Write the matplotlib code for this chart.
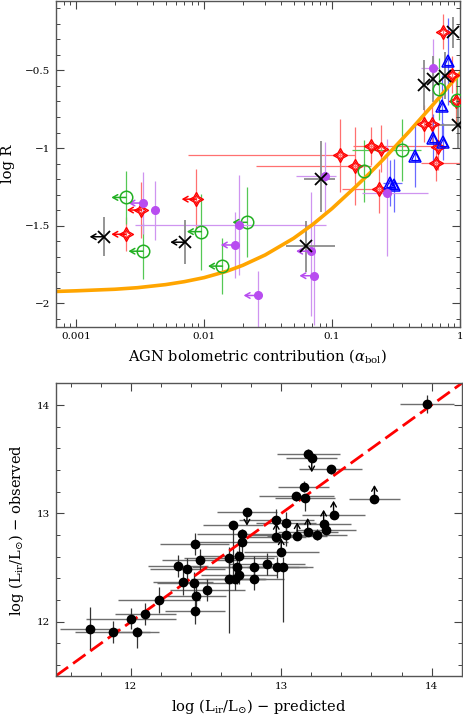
import numpy as np
import matplotlib
matplotlib.use('Agg')
import matplotlib.pyplot as plt
from matplotlib.ticker import FixedLocator, MultipleLocator, LogLocator, NullFormatter

plt.rcParams['font.family'] = 'DejaVu Serif'
plt.rcParams['mathtext.fontset'] = 'dejavuserif'

# ---------------- top panel data : log R vs alpha_bol ----------------
# model curve
curve_a = [0.0007, 0.001, 0.002, 0.003, 0.005, 0.007, 0.01, 0.015, 0.02, 0.03, 0.05, 0.07,
           0.1, 0.15, 0.2, 0.25, 0.3, 0.4, 0.5, 0.6, 0.7, 0.85, 1.0]
curve_r = [-1.923, -1.919, -1.909, -1.899, -1.879, -1.860, -1.834, -1.793, -1.755, -1.688,
           -1.581, -1.494, -1.389, -1.255, -1.156, -1.075, -1.005, -0.894, -0.804, -0.731,
           -0.668, -0.585, -0.52]

# red stars
x_red = [0.00323, 0.00244, 0.00865, 0.116, 0.150, 0.203, 0.242, 0.231, 0.526, 0.600, 0.668, 0.645, 0.740, 0.869, 0.923]
y_red = [-1.399, -1.555, -1.329, -1.045, -1.115, -0.987, -1.004, -1.265, -0.842, -0.842, -0.991, -1.094, -0.250, -0.528, -0.699]
ylo_red = [0.18, 0.11, 0.195, 0.235, 0.25, 0.12, 0.15, 0.15, 0.12, 0.12, 0.15, 0.12, 0.11, 0.12, 0.15]
yhi_red = [0.18, 0.11, 0.195, 0.235, 0.25, 0.12, 0.15, 0.13, 0.12, 0.12, 0.15, 0.15, 0.11, 0.12, 0.15]
xmin_red = [0.00323, 0.00244, 0.00865, 0.00745, 0.0254, 0.147, 0.242, 0.12, 0.526, 0.600, 0.668, 0.5, 0.740, 0.869, 0.923]
xmax_red = [0.00323, 0.00244, 0.00865, 0.152, 0.2, 0.6, 0.242, 0.3, 0.526, 0.600, 0.668, 1.0, 0.740, 0.869, 0.923]
lim_red = [1, 1, 1, 0, 0, 0, 0, 0, 0, 0, 0, 0, 0, 0, 0]

# green open circles
x_grn = [0.00244, 0.00332, 0.0095, 0.0139, 0.0216, 0.177, 0.351, 0.689, 0.94]
y_grn = [-1.318, -1.664, -1.538, -1.760, -1.478, -1.147, -1.015, -0.619, -0.688]
yerr_grn = [0.17, 0.18, 0.245, 0.18, 0.225, 0.2, 0.2, 0.2, 0.15]
xmin_grn = [0.00244, 0.00332, 0.0095, 0.0139, 0.0216, 0.177, 0.142, 0.689, 0.94]
xmax_grn = [0.00244, 0.00332, 0.0095, 0.0139, 0.0216, 0.177, 0.5, 0.689, 0.94]
lim_grn = [1, 1, 1, 1, 1, 0, 0, 0, 0]

# blue triangles
x_blu = [0.285, 0.305, 0.446, 0.618, 0.740, 0.810, 0.728]
y_blu = [-1.225, -1.240, -1.051, -0.933, -0.959, -0.442, -0.731]
yerr_blu = [0.15, 0.17, 0.2, 0.15, 0.12, 0.28, 0.2]
xmin_blu = [0.25, 0.305, 0.446, 0.618, 0.740, 0.810, 0.728]
xmax_blu = [0.35, 0.305, 0.446, 0.618, 0.740, 0.810, 0.728]

# violet filled circles
x_vio = [0.00332, 0.00409, 0.0186, 0.0175, 0.0264, 0.0877, 0.0679, 0.0721, 0.268, 0.611]
y_vio = [-1.354, -1.401, -1.496, -1.624, -1.949, -1.179, -1.664, -1.822, -1.292, -0.485]
ylo_vio = [0.2, 0.19, 0.32, 0.21, 0.3, 0.23, 0.42, 0.32, 0.4, 0.19]
yhi_vio = [0.2, 0.19, 0.32, 0.21, 0.16, 0.22, 0.38, 0.34, 0.35, 0.19]
xmin_vio = [0.00332, 0.00409, 0.0029, 0.0175, 0.0264, 0.052, 0.0679, 0.0721, 0.17, 0.5]
xmax_vio = [0.00332, 0.00409, 0.089, 0.0175, 0.0264, 0.108, 0.0679, 0.0721, 0.56, 0.68]
lim_vio = [1, 0, 0, 1, 1, 0, 1, 1, 0, 0]

# black crosses
x_blk = [0.00165, 0.00705, 0.0813, 0.0628, 0.526, 0.618, 0.763, 0.885, 0.96]
y_blk = [-1.571, -1.606, -1.200, -1.632, -0.592, -0.555, -0.534, -0.254, -0.850]
ylo_blk = [0.125, 0.14, 0.21, 0.165, 0.16, 0.15, 0.15, 0.1, 0.15]
yhi_blk = [0.125, 0.14, 0.245, 0.165, 0.16, 0.15, 0.15, 0.1, 0.15]
xmin_blk = [0.00165, 0.00705, 0.0603, 0.0434, 0.526, 0.618, 0.763, 0.885, 0.638]
xmax_blk = [0.00165, 0.00705, 0.106, 0.106, 0.526, 0.618, 0.763, 0.885, 1.0]
lim_blk = [1, 1, 0, 0, 0, 0, 0, 0, 0]

# ---------------- bottom panel data : observed vs predicted ----------------
l_pred = [13.967, 13.181, 13.203, 13.329, 13.150, 13.099, 13.159, 13.620, 13.348, 12.772,
          12.967, 13.029, 13.282, 13.298, 12.680, 12.742, 12.742, 12.967, 13.029, 13.106,
          13.176, 13.236, 13.000, 12.424, 12.459, 12.651, 12.719, 12.311, 12.375, 12.706,
          12.719, 12.651, 12.691, 12.819, 12.819, 12.905, 12.974, 13.011, 12.348, 12.421,
          12.432, 12.507, 12.187, 12.428, 12.097, 12.002, 11.730, 11.878, 12.040]
l_obs = [14.008, 13.548, 13.509, 13.408, 13.248, 13.159, 13.146, 13.132, 12.987, 13.017,
         12.941, 12.911, 12.904, 12.849, 12.889, 12.810, 12.732, 12.782, 12.803, 12.788,
         12.828, 12.803, 12.640, 12.720, 12.573, 12.589, 12.604, 12.512, 12.490, 12.502,
         12.429, 12.398, 12.398, 12.506, 12.398, 12.536, 12.502, 12.502, 12.368, 12.359,
         12.236, 12.291, 12.205, 12.098, 12.074, 12.030, 11.938, 11.904, 11.904]
xerr_bot = [0.18, 0.21, 0.17, 0.21, 0.17, 0.25, 0.2, 0.17, 0.21, 0.2,
            0.25, 0.2, 0.18, 0.2, 0.2, 0.3, 0.3, 0.2, 0.25, 0.2,
            0.2, 0.2, 0.25, 0.23, 0.25, 0.3, 0.25, 0.2, 0.25, 0.3,
            0.25, 0.25, 0.2, 0.3, 0.2, 0.25, 0.2, 0.2, 0.2, 0.25,
            0.2, 0.25, 0.27, 0.2, 0.2, 0.3, 0.2, 0.25, 0.15]
ylo_bot = [0.08, 0.05, 0.0, 0.04, 0.05, 0.04, 0.12, 0.0, 0.0, 0.0,
           0.1, 0.1, 0.0, 0.05, 0.5, 0.05, 0.1, 0.0, 0.1, 0.0,
           0.0, 0.05, 0.0, 0.1, 0.1, 0.1, 0.1, 0.1, 0.1, 0.15,
           0.08, 0.5, 0.1, 0.1, 0.1, 0.1, 0.1, 0.5, 0.12, 0.1,
           0.1, 0.1, 0.12, 0.12, 0.1, 0.1, 0.2, 0.1, 0.15]
yhi_bot = [0.08, 0.05, 0.04, 0.04, 0.05, 0.04, 0.03, 0.0, 0.0, 0.0,
           0.1, 0.1, 0.0, 0.05, 0.02, 0.05, 0.1, 0.0, 0.1, 0.0,
           0.0, 0.05, 0.0, 0.1, 0.1, 0.1, 0.1, 0.1, 0.1, 0.15,
           0.08, 0.2, 0.1, 0.1, 0.1, 0.1, 0.1, 0.1, 0.12, 0.1,
           0.1, 0.1, 0.12, 0.12, 0.1, 0.1, 0.2, 0.1, 0.05]
lim_bot = ['', '', 'down', '', '', '', '', 'up', 'up', 'down',
           '', '', 'up', '', '', '', '', 'up', '', 'up',
           'up', '', 'up', '', '', '', '', '', '', '',
           '', '', '', '', '', '', '', '', '', '',
           '', '', '', '', '', '', '', '', '']

one_to_one = [11.5, 14.2]

# ------------------------------------------------------------------
fig = plt.figure(figsize=(4.63, 7.18), dpi=100)
ax1 = fig.add_axes([0.1203, 0.545, 0.8732, 0.4543])
ax2 = fig.add_axes([0.1203, 0.0585, 0.8768, 0.4076])


def xerrs(x, lo, hi):
    x = np.array(x)
    return [x - np.array(lo), np.array(hi) - x]


def left_arrows(ax, x, y, lim, c):
    for xi, yi, li in zip(x, y, lim):
        if li:
            ax.annotate('', xy=(xi * 0.77, yi), xytext=(xi, yi),
                        arrowprops=dict(arrowstyle='->,head_length=0.35,head_width=0.2', color=c, lw=1.1,
                                        shrinkA=0, shrinkB=0), zorder=4)


ax1.plot(curve_a, curve_r, color='#ffa500', lw=2.6, zorder=2, solid_joinstyle='round')

# error bars
ax1.errorbar(x_red, y_red, yerr=[ylo_red, yhi_red], xerr=xerrs(x_red, xmin_red, xmax_red),
             fmt='none', ecolor='#ff7070', elinewidth=0.9, zorder=1)
ax1.errorbar(x_grn, y_grn, yerr=yerr_grn, xerr=xerrs(x_grn, xmin_grn, xmax_grn),
             fmt='none', ecolor='#55c855', elinewidth=0.9, zorder=1)
ax1.errorbar(x_blu, y_blu, yerr=yerr_blu, xerr=xerrs(x_blu, xmin_blu, xmax_blu),
             fmt='none', ecolor='#6a6aff', elinewidth=0.9, zorder=1)
ax1.errorbar(x_vio, y_vio, yerr=[ylo_vio, yhi_vio], xerr=xerrs(x_vio, xmin_vio, xmax_vio),
             fmt='none', ecolor='#cf94f0', elinewidth=0.9, zorder=1)
ax1.errorbar(x_blk, y_blk, yerr=[ylo_blk, yhi_blk], xerr=xerrs(x_blk, xmin_blk, xmax_blk),
             fmt='none', ecolor='#8c8c8c', elinewidth=1.3, zorder=1)

left_arrows(ax1, x_red, y_red, lim_red, '#ff0000')
left_arrows(ax1, x_grn, y_grn, lim_grn, '#22b022')
left_arrows(ax1, x_vio, y_vio, lim_vio, '#b84cf0')
left_arrows(ax1, x_blk, y_blk, lim_blk, 'black')

# markers: concave four-point star
star = [(0, 1), (0.36, 0.36), (1, 0), (0.36, -0.36), (0, -1), (-0.36, -0.36), (-1, 0), (-0.36, 0.36), (0, 1)]
ax1.plot(x_red, y_red, ls='none', marker=star, ms=10, mfc='none', mec='#ff0000', mew=1.0, zorder=5)
ax1.plot(x_red, y_red, ls='none', marker=star, ms=6.5, mfc='none', mec='#ff0000', mew=0.8, zorder=5)
ax1.plot(x_grn, y_grn, ls='none', marker='o', ms=9, mfc='none', mec='#22b022', mew=1.1, zorder=5)
ax1.plot(x_blu, y_blu, ls='none', marker='^', ms=9, mfc='none', mec='#0000ff', mew=1.1, zorder=5)
ax1.plot(x_blu, y_blu, ls='none', marker='^', ms=5.5, mfc='none', mec='#0000ff', mew=0.9, zorder=5)
ax1.plot(x_vio, y_vio, ls='none', marker='o', ms=5.5, mfc='#b84cf0', mec='#b84cf0', zorder=5)
ax1.plot(x_blk, y_blk, ls='none', marker='x', ms=8, mec='black', mew=1.3, zorder=5)

ax1.set_xscale('log')
ax1.set_xlim(6.9e-4, 1.0)
ax1.set_ylim(-2.15, -0.05)
ax1.xaxis.set_major_locator(FixedLocator([0.001, 0.01, 0.1, 1]))
ax1.set_xticklabels(['0.001', '0.01', '0.1', '1'])
ax1.xaxis.set_minor_locator(LogLocator(base=10, subs=np.arange(2, 10)))
ax1.xaxis.set_minor_formatter(NullFormatter())
ax1.set_yticks([-2, -1.5, -1, -0.5])
ax1.set_yticklabels(['\u22122', '\u22121.5', '\u22121', '\u22120.5'])
ax1.yaxis.set_minor_locator(MultipleLocator(0.1))
ax1.set_xlabel(r'AGN bolometric contribution ($\alpha_{\rm bol}$)', fontsize=10.5, labelpad=4)
ax1.set_ylabel('log R', fontsize=10.5, labelpad=7)

# ---------------- bottom ----------------
ax2.plot(one_to_one, one_to_one, color='#ff0000', lw=2.0, dashes=(5.5, 2.2), zorder=2)
ax2.errorbar(l_pred, l_obs, xerr=xerr_bot, fmt='none', ecolor='#6e6e6e', elinewidth=1.0, zorder=1)
ax2.errorbar(l_pred, l_obs, yerr=[ylo_bot, yhi_bot], fmt='none', ecolor='#333333', elinewidth=0.9, zorder=1)
for xi, yi, li in zip(l_pred, l_obs, lim_bot):
    if li == 'up':
        ax2.annotate('', xy=(xi, yi + 0.13), xytext=(xi, yi),
                     arrowprops=dict(arrowstyle='->,head_length=0.35,head_width=0.2', color='black', lw=1.0,
                                     shrinkA=0, shrinkB=0), zorder=3)
    elif li == 'down':
        ax2.annotate('', xy=(xi, yi - 0.13), xytext=(xi, yi),
                     arrowprops=dict(arrowstyle='->,head_length=0.35,head_width=0.2', color='black', lw=1.0,
                                     shrinkA=0, shrinkB=0), zorder=3)
ax2.plot(l_pred, l_obs, ls='none', marker='o', ms=6, color='black', zorder=4)

ax2.set_xlim(11.5, 14.2)
ax2.set_ylim(11.5, 14.2)
ax2.set_xticks([12, 13, 14])
ax2.set_yticks([12, 13, 14])
ax2.xaxis.set_minor_locator(MultipleLocator(0.2))
ax2.yaxis.set_minor_locator(MultipleLocator(0.2))
ax2.set_xlabel(r'log (L$_{\rm ir}$/L$_{\odot}$) $-$ predicted', fontsize=10.5, labelpad=5)
ax2.set_ylabel(r'log (L$_{\rm ir}$/L$_{\odot}$) $-$ observed', fontsize=10.5, labelpad=8)

for ax in (ax1, ax2):
    ax.tick_params(which='both', direction='in', top=True, right=True, color='#444444', labelsize=7.5)
    ax.tick_params(which='major', length=6, width=0.8, pad=4)
    ax.tick_params(which='minor', length=3, width=0.7)
    for s in ax.spines.values():
        s.set_color('#555555')
        s.set_linewidth(1.0)

plt.savefig('out.png', dpi=100)
